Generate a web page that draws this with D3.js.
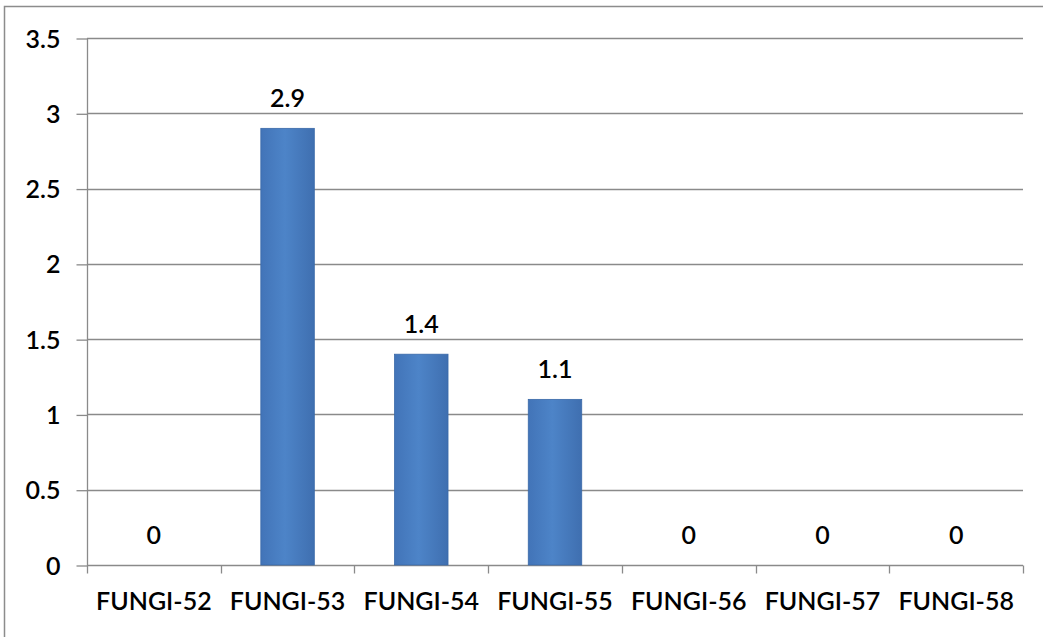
<!DOCTYPE html>
<html><head><meta charset="utf-8">
<script src="https://cdn.jsdelivr.net/npm/d3@7"></script>
<style>
html,body{margin:0;padding:0;background:#fff;}
svg{display:block;}
text{font-family:Lato,"Open Sans",sans-serif;fill:#000;}
</style></head>
<body>
<svg id="c" width="1043" height="637"></svg>
<script>
const categories = ["FUNGI-52","FUNGI-53","FUNGI-54","FUNGI-55","FUNGI-56","FUNGI-57","FUNGI-58"];
const values = [0, 2.9, 1.4, 1.1, 0, 0, 0];
const yTicks = [0, 0.5, 1, 1.5, 2, 2.5, 3, 3.5];

const svg = d3.select("#c");
const m = {left:87, right:1023, top:38, bottom:565};
const FS = 25, FW = 600;

// outer chart border
svg.append("rect").attr("x",4.5).attr("y",6.5).attr("width",1060).attr("height",660)
  .attr("fill","none").attr("stroke","#8c8c8c").attr("stroke-width",1.5);

const x = d3.scaleBand().domain(categories).range([m.left,m.right]).paddingInner(0.6).paddingOuter(0.3);
const xb = d3.scaleBand().domain(categories).range([m.left,m.right]);
const y = d3.scaleLinear().domain([0,3.5]).range([m.bottom,m.top]);

const defs = svg.append("defs");
const g = defs.append("linearGradient").attr("id","bg").attr("x1","0").attr("x2","1").attr("y1","0").attr("y2","0");
g.append("stop").attr("offset","0").attr("stop-color","#4274b8");
g.append("stop").attr("offset","0.45").attr("stop-color","#4d84c8");
g.append("stop").attr("offset","1").attr("stop-color","#3f6fb0");

// gridlines
svg.append("g").selectAll("line").data(yTicks.filter(t=>t>0)).join("line")
  .attr("x1",m.left).attr("x2",m.right)
  .attr("y1",d=>Math.round(y(d))+0.5).attr("y2",d=>Math.round(y(d))+0.5)
  .attr("stroke","#8a8a8a").attr("stroke-width",1.3);

// y axis
const ya = d3.axisLeft(y).tickValues(yTicks).tickSize(11).tickPadding(16).tickFormat(d=>String(d));
const yg = svg.append("g").attr("transform",`translate(${m.left+0.5},0.5)`).call(ya);
yg.select(".domain").attr("stroke","#8a8a8a").attr("stroke-width",1.3).attr("d",`M0,${m.top}V${m.bottom}`);
yg.selectAll(".tick line").attr("stroke","#8a8a8a").attr("stroke-width",1.3);
yg.selectAll(".tick text").attr("font-size",FS).attr("font-weight",FW).attr("font-family","Lato").attr("fill","#000").attr("dy","0.34em");

// x axis
const xa = d3.axisBottom(xb).tickSize(0).tickPadding(27);
const xg = svg.append("g").attr("transform",`translate(0,${Math.round(y(0))+0.5})`).call(xa);
xg.select(".domain").attr("stroke","#8a8a8a").attr("stroke-width",1.3).attr("d",`M${m.left},0H${m.right}`);
xg.selectAll(".tick text").attr("font-size",FS).attr("font-weight",FW).attr("font-family","Lato").attr("fill","#000");
// category boundary ticks
xg.append("g").selectAll("line").data(d3.range(categories.length+1)).join("line")
  .attr("x1",i=>Math.round(m.left+i*xb.step())+0.5).attr("x2",i=>Math.round(m.left+i*xb.step())+0.5)
  .attr("y1",0).attr("y2",8).attr("stroke","#8a8a8a").attr("stroke-width",1.3);

// bars
svg.append("g").selectAll("rect").data(categories).join("rect")
  .attr("x",(d)=>x(d)).attr("width",x.bandwidth())
  .attr("y",(d,i)=>y(values[i])).attr("height",(d,i)=>y(0)-y(values[i]))
  .attr("fill","url(#bg)").attr("stroke","#3a69a8").attr("stroke-width",0.8);

// data labels
svg.append("g").selectAll("text").data(categories).join("text")
  .attr("x",d=>xb(d)+xb.bandwidth()/2)
  .attr("y",(d,i)=>y(values[i])-21)
  .attr("text-anchor","middle").attr("font-size",FS).attr("font-weight",FW)
  .text((d,i)=>String(values[i]));
</script>
</body></html>
